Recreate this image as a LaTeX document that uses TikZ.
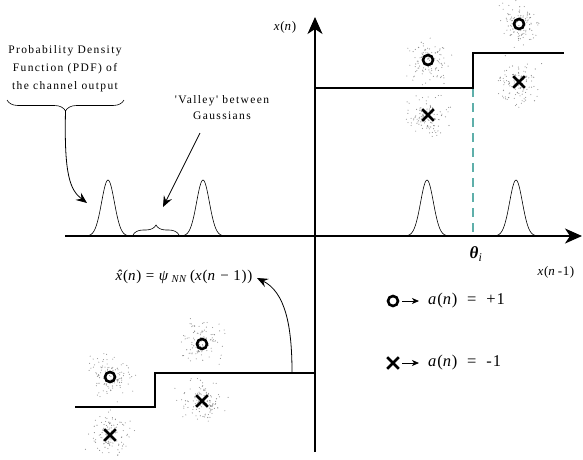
\documentclass[tikz,border=0pt]{standalone}
\usepackage{fontspec}
\setmainfont{Liberation Serif}
\newfontfamily\spacedfont[LetterSpace=12]{Liberation Serif}
\newfontfamily\loosefont[LetterSpace=5]{Liberation Serif}
\usepackage{tikz}
\usetikzlibrary{arrows.meta, positioning, decorations.pathreplacing, shapes.misc}

\definecolor{thetateal}{RGB}{95,175,170}
\definecolor{cloudgray}{RGB}{140,140,140}

% scattered received samples round one symbol
\newcommand{\dotcloud}[2]{%
  \foreach \k in {1,...,110}{%
    \pgfmathsetmacro{\dx}{(rand+rand+rand)*10}%
    \pgfmathsetmacro{\dy}{(rand+rand+rand)*10}%
    \fill[cloudgray] ({#1+\dx},{#2+\dy}) circle (0.55pt);
  }}

\begin{document}
\begin{tikzpicture}[x=1pt, y=-1pt,
    axis/.style={line width=1.7pt, -{Stealth[length=17pt, width=15pt, inset=5pt]}},
    stair/.style={line width=2.8pt, line join=miter},
    pointer/.style={line width=0.8pt, -{Stealth[length=11pt, width=9pt, inset=4pt]}},
    bump/.style={line width=0.6pt},
    curly/.style={decorate, decoration={brace, amplitude=#1}, line width=0.6pt},
    ringsym/.style={circle, draw, line width=2.6pt, minimum size=10pt, inner sep=0pt},
    crosssym/.style={cross out, draw, line width=2.6pt, minimum size=9pt, inner sep=0pt},
    note/.style={font=\spacedfont\fontsize{11.5}{18}\selectfont, align=center, inner sep=0pt},
    mathtxt/.style={font=\loosefont\fontsize{15}{17}\selectfont, inner sep=0pt}
]
    \useasboundingbox (0,0) rectangle (583,459);
    \pgfmathsetseed{7}

    % Clouds
    \dotcloud{428}{60}  \dotcloud{428}{115}
    \dotcloud{519}{24}  \dotcloud{519}{82}
    \dotcloud{202}{344} \dotcloud{202}{401}
    \dotcloud{110}{377} \dotcloud{110}{435}

    % Axes
    \coordinate (xstart) at (65,236);
    \coordinate (xend) at (582,236);
    \coordinate (ystart) at (315,452);
    \coordinate (yend) at (315,17);
    \draw[axis] (xstart) -- (xend);
    \draw[axis] (ystart) -- (yend);

    % Gaussians
    \foreach \c in {108,203,427,516}
        \draw[bump] plot[domain=-21:21, samples=41, smooth] ({\c+\x},{236-56*exp(-1*((\x/9)^2))});

    % Threshold
    \coordinate (thtop) at (473,88);
    \coordinate (thbot) at (473,236);
    \draw[thetateal, line width=1.5pt, dash pattern=on 9pt off 6pt] (thtop) -- (thbot);

    % Staircase
    \coordinate (s1) at (75,407);
    \coordinate (s2) at (155,407);
    \coordinate (s3) at (155,373);
    \coordinate (s4) at (315,373);
    \coordinate (s5) at (315,88);
    \coordinate (s6) at (473,88);
    \coordinate (s7) at (473,53);
    \coordinate (s8) at (542,53);
    \coordinate (s9) at (564,53);
    \draw[stair] (s1) -- (s2) -- (s3) -- (s4) -- (s5) -- (s6) -- (s7) -- (s8);
    \draw[line width=1.3pt] (s8) -- (s9);

    % Symbols
    \node[ringsym] (o1) at (428,60) {};
    \node[crosssym] (x1) at (428,115) {};
    \node[ringsym] (o2) at (519,24) {};
    \node[crosssym] (x2) at (519,82) {};
    \node[ringsym] (o3) at (202,344) {};
    \node[crosssym] (x3) at (202,401) {};
    \node[ringsym] (o4) at (110,377) {};
    \node[crosssym] (x4) at (110,435) {};

    % Texts
    \node[note] (pdftxt) at (65,69) {Probability Density\\Function (PDF) of\\the channel output};
    \node[note, font=\spacedfont\fontsize{11.5}{16}\selectfont] (valleytxt) at (222,108) {'Valley' between\\Gaussians};
    \node[mathtxt, font=\loosefont\fontsize{13}{15}\selectfont] (xnlab) at (285,27) {\textit{x}(\textit{n})};
    \node[mathtxt, font=\loosefont\fontsize{13}{15}\selectfont] (xn1lab) at (556,272) {\textit{x}(\textit{n}\,-1)};
    \node[mathtxt, font=\fontsize{17}{19}\selectfont] (thetalab) at (476,254) {\textbf{\textit{θ}}\textsubscript{\textit{i}}};
    \node[mathtxt] (hatlab) at (184,277) {\textit{\accent"02C6 x}(\textit{n}) = \textit{ψ}\,\textsubscript{\textit{NN}}\,(\textit{x}(\textit{n} − 1))};

    % Braces
    \draw[curly=11pt] (124,100) -- (7,100);
    \coordinate (pdftip) at (65.5,111);
    \draw[curly=10pt] (133,235) -- (179,235);

    % Pointers
    \coordinate (pdfend) at (87,203);
    \coordinate (valleystart) at (200,133);
    \coordinate (valleyend) at (163,207);
    \coordinate (stairhook) at (292,372);
    \coordinate (hattip) at (257,278);
    \draw[pointer] (pdftip) .. controls (64,175) and (70,190) .. (pdfend);
    \draw[pointer] (valleystart) -- (valleyend);
    \draw[pointer] (stairhook) .. controls (292,325) and (285,292) .. (hattip);

    % Legend
    \node[ringsym] (lego) at (393,301) {};
    \node[crosssym] (legx) at (393,363) {};
    \coordinate (lego1) at (402,301);
    \coordinate (lego2) at (419,301);
    \coordinate (legx1) at (402,363);
    \coordinate (legx2) at (419,363);
    \draw[line width=0.8pt, -{Stealth[length=7pt, width=6pt, inset=2pt]}] (lego1) -- (lego2);
    \draw[line width=0.8pt, -{Stealth[length=7pt, width=6pt, inset=2pt]}] (legx1) -- (legx2);
    \node[mathtxt, anchor=west, font=\loosefont\fontsize{16.5}{18}\selectfont] (legplus) at (428,301) {\textit{a}(\textit{n}) \ = \ +1};
    \node[mathtxt, anchor=west, font=\loosefont\fontsize{16.5}{18}\selectfont] (legminus) at (428,363) {\textit{a}(\textit{n}) \ = \ -1};
\end{tikzpicture}
\end{document}
